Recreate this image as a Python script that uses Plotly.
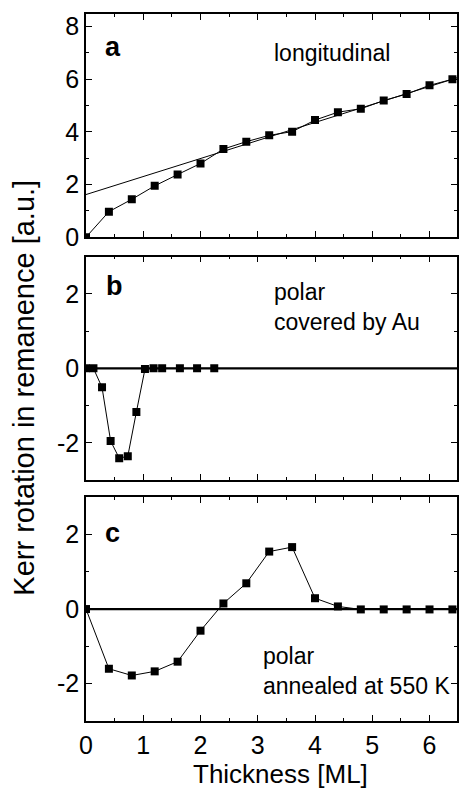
import plotly.graph_objects as go
from plotly.subplots import make_subplots

# ---- data ----
thick_a = [0, 0.4, 0.8, 1.2, 1.6, 2.0, 2.4, 2.8, 3.2, 3.6, 4.0, 4.4, 4.8, 5.2, 5.6, 6.0, 6.4]
kerr_long = [0, 0.97, 1.44, 1.95, 2.38, 2.80, 3.35, 3.63, 3.87, 4.01, 4.45, 4.75, 4.88, 5.19, 5.44, 5.77, 6.0]
fit_x = [0, 6.5]
fit_y = [1.62, 6.07]

thick_b = [0, 0.13, 0.28, 0.43, 0.58, 0.73, 0.88, 1.03, 1.18, 1.33, 1.64, 1.94, 2.24]
kerr_polar_au = [0, 0, -0.51, -1.95, -2.41, -2.36, -1.17, -0.02, 0, 0, 0, 0, 0]

thick_c = [0, 0.4, 0.8, 1.2, 1.6, 2.0, 2.4, 2.8, 3.2, 3.6, 4.0, 4.4, 4.8, 5.2, 5.6, 6.0, 6.4]
kerr_polar_ann = [0, -1.60, -1.78, -1.67, -1.41, -0.58, 0.15, 0.69, 1.54, 1.66, 0.29, 0.07, -0.01, -0.01, -0.01, -0.01, -0.01]

x_tickvals = [0, 1, 2, 3, 4, 5, 6]
x_ticktext = ["0", "1", "2", "3", "4", "5", "6"]
ya_tickvals = [0, 2, 4, 6, 8]
ya_ticktext = ["0", "2", "4", "6", "8"]
ybc_tickvals = [-2, 0, 2]
ybc_ticktext = ["-2", "0", "2"]

FONT = "Liberation Sans, Arial, sans-serif"

fig = make_subplots(rows=3, cols=1, shared_xaxes=False)

mk = dict(symbol="square", size=8, color="black")
ln = dict(color="black", width=1)

fig.add_trace(go.Scatter(x=fit_x, y=fit_y, mode="lines", line=ln, showlegend=False), row=1, col=1)
fig.add_trace(go.Scatter(x=thick_a, y=kerr_long, mode="lines+markers", line=ln, marker=mk, showlegend=False), row=1, col=1)
fig.add_trace(go.Scatter(x=thick_b, y=kerr_polar_au, mode="lines+markers", line=ln, marker=mk, showlegend=False), row=2, col=1)
fig.add_trace(go.Scatter(x=thick_c, y=kerr_polar_ann, mode="lines+markers", line=ln, marker=mk, showlegend=False), row=3, col=1)

# zero lines in b and c
for r in (2, 3):
    fig.add_shape(type="line", xref=f"x{r} domain", yref=f"y{r}", x0=0, x1=1, y0=0, y1=0,
                  line=dict(color="black", width=2.2), layer="below")

axis_common = dict(
    showline=True, linecolor="black", linewidth=1.6, mirror="ticks",
    ticks="inside", ticklen=6, tickwidth=1.4, tickcolor="black",
    showgrid=False, zeroline=False,
    tickfont=dict(family=FONT, size=25, color="black"),
    minor=dict(ticks="inside", ticklen=3, tickwidth=1.2, tickcolor="black", showgrid=False),
)

domains = {1: [0.6843, 1.0], 2: [0.3407, 0.6569], 3: [0.0, 0.3167]}
for r in (1, 2, 3):
    xa = dict(axis_common)
    xa.update(range=[0, 6.48], domain=[0, 1], tickvals=x_tickvals, ticktext=x_ticktext,
              minor=dict(axis_common["minor"], dtick=0.5, tick0=0),
              showticklabels=(r == 3), ticklabelstandoff=1)
    fig.update_xaxes(xa, row=r, col=1)
    ya = dict(axis_common)
    if r == 1:
        ya.update(range=[0, 8.48], tickvals=ya_tickvals, ticktext=ya_ticktext)
    else:
        ya.update(range=[-3, 3], tickvals=ybc_tickvals, ticktext=ybc_ticktext)
    ya.update(domain=domains[r], minor=dict(axis_common["minor"], dtick=1, tick0=0))
    fig.update_yaxes(ya, row=r, col=1)

ann_font = dict(family=FONT, size=23, color="black")
lab_font = dict(family=FONT, size=27, color="black")
annotations = [
    dict(text="<b>a</b>", xref="x domain", yref="y domain", x=0.072, y=0.85, font=lab_font),
    dict(text="longitudinal", xref="x domain", yref="y domain", x=0.5, y=0.824, xanchor="left", font=ann_font),
    dict(text="<b>b</b>", xref="x2 domain", yref="y2 domain", x=0.076, y=0.87, font=lab_font),
    dict(text="polar<br>covered by Au", xref="x2 domain", yref="y2 domain", x=0.5, y=0.773,
         xanchor="left", align="left", font=ann_font),
    dict(text="<b>c</b>", xref="x3 domain", yref="y3 domain", x=0.072, y=0.84, font=lab_font),
    dict(text="polar<br>annealed at 550 K", xref="x3 domain", yref="y3 domain", x=0.471, y=0.225,
         xanchor="left", align="left", font=ann_font),
    dict(text="Kerr rotation in remanence [a.u.]", xref="paper", yref="paper", x=-0.166, y=0.472,
         textangle=-90, font=dict(family=FONT, size=29, color="black")),
    dict(text="Thickness [ML]", xref="paper", yref="paper", x=0.525, y=-0.0745,
         font=dict(family=FONT, size=26, color="black")),
]
for a in annotations:
    a["showarrow"] = False
    a.setdefault("xanchor", "center")
    a.setdefault("yanchor", "middle")
fig.update_layout(
    annotations=annotations,
    width=459, height=789,
    margin=dict(l=86, r=0, t=14, b=68),
    plot_bgcolor="white", paper_bgcolor="white",
    showlegend=False,
)

fig.write_html("out.html", config={"displayModeBar": False},
               post_script="document.body.style.margin='0';document.body.style.overflow='hidden';")
